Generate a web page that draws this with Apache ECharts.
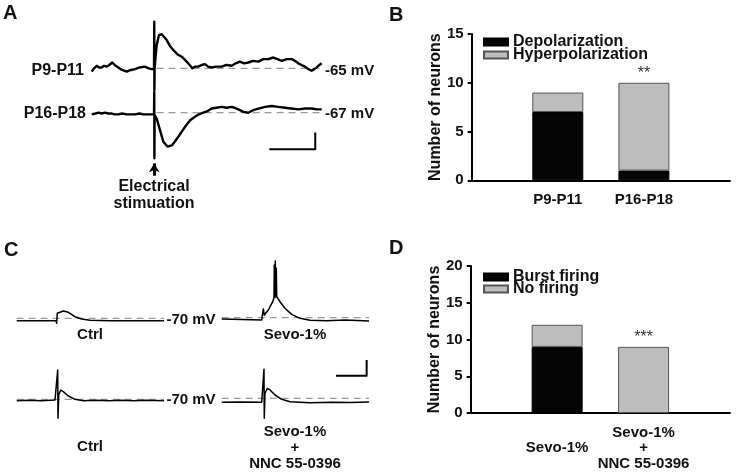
<!DOCTYPE html>
<html>
<head>
<meta charset="utf-8">
<script src="https://cdn.jsdelivr.net/npm/echarts@6/dist/echarts.min.js"></script>
<style>
html, body { margin: 0; padding: 0; background: #fff; }
#chart { width: 747px; height: 472px; }
</style>
</head>
<body>
<div id="chart"></div>
<script>
// ---------- panel A traces: [time ms, membrane potential mV] ----------
const traceP9 = [
  [0, -65.4], [5, -65.0], [10.9, -64.7], [16, -64.9], [21.7, -64.9], [27, -64.7], [32.6, -64.8], [38, -64.6],
  [44.8, -64.3], [50, -64.6], [57.8, -64.9], [66, -65.2], [76.1, -65.4], [85, -65.2], [94.1, -65.1], [104, -64.9],
  [115.9, -64.8], [124, -65.0], [130.4, -65.1], [135.5, -65.1], [136.0, -59.4], [136.3, -67.6], [136.8, -65.0],
  [139, -63.5], [141.3, -62.2], [146.3, -61.0], [152.2, -60.9], [157, -61.2], [163.1, -61.6], [170, -62.3],
  [177.4, -62.8], [186, -63.3], [195.7, -63.6], [206.5, -64.2], [213, -64.6], [218.7, -65.0], [225, -64.8],
  [231.7, -64.8], [239, -64.6], [246.3, -64.5], [253, -64.8], [260.9, -64.9], [271, -64.8], [282.6, -64.8],
  [293, -64.6], [304.4, -64.7], [313, -64.4], [322.4, -64.2], [331, -64.4], [340.4, -64.3], [351, -64.1],
  [362.2, -64.2], [373.1, -63.9], [384, -63.9], [394.8, -63.7], [404, -63.9], [413.1, -64.1], [424, -63.9],
  [434.8, -63.9], [442, -64.1], [449.1, -64.4], [456, -64.6], [463.7, -64.8], [471, -65.1], [478.3, -65.3],
  [484, -65.1], [489.2, -64.9], [495, -64.6], [500, -64.4]
];
const traceP16 = [
  [0, -67.2], [8, -67.1], [15, -67.0], [22, -67.1], [28.9, -67.0], [36, -67.1], [44, -67.1], [50, -67.2],
  [57.8, -67.2], [66, -67.1], [76, -67.2], [85, -67.2], [94.1, -67.2], [104, -67.1], [112, -67.2], [121, -67.2],
  [130.4, -67.2], [135.5, -67.2], [136.0, -64.5], [136.3, -72.5], [136.8, -67.3], [141.3, -67.7], [148.5, -69.1],
  [155.7, -70.5], [165.2, -71.1], [175.2, -70.9], [188.3, -69.9], [202.8, -68.7], [214, -67.9], [224.6, -67.5],
  [233, -67.2], [242.6, -67.0], [252, -66.8], [260.9, -66.5], [271, -66.4], [282.6, -66.3], [293, -66.4],
  [304.4, -66.3], [311, -66.4], [318.7, -66.6], [330, -66.9], [340.4, -67.0], [351, -66.7], [362.2, -66.5],
  [377, -66.3], [391.3, -66.2], [405, -66.3], [420.2, -66.4], [434, -66.5], [449.1, -66.6], [464, -66.5],
  [478.3, -66.5], [490, -66.6], [500, -66.6]
];
const restP9 = [[141, -65], [500, -65]];
const restP16 = [[141, -67], [500, -67]];
const scaleA = [[386, -71.4], [486, -71.4], [486, -69.4]];   // 100 ms, 2 mV
const arrowA = [[136, -74.6], [136, -73.1]];

// ---------- panel C traces ----------
const ctrlTop = [
  [0, -73.1], [128, -73.1], [130.2, -76.4], [132.2, -63.6], [135.5, -65.8], [151.7, -60.7], [168, -62.4],
  [189.8, -68.0], [211.6, -70.9], [238.7, -72.5], [303.8, -73.1], [480, -73.1]
];
const sevoTop = [
  [0, -71.7], [130.2, -72.9], [133.5, -75.1], [135.5, -58.9], [138.7, -66.6], [151.7, -60.2], [166.1, -49.6],
  [170.3, -44.5], [171.3, -2.9], [173.5, -43.6], [174.5, 2.2], [176.1, -43.6], [177.8, -7.1], [179.1, -43.2],
  [189.8, -49.6], [206.1, -58.0], [227.9, -65.7], [254.9, -70.8], [287.5, -73.3], [341.9, -73.8],
  [401.5, -72.9], [480, -74.2]
];
const ctrlBottom = [
  [0, -71.8], [40, -71.3], [80, -71.9], [124.7, -70.9], [133.5, -32.7], [134.5, -94.2], [136.8, -64.5],
  [143.3, -58.2], [151.7, -60.3], [168, -65.8], [189.8, -70.0], [216.8, -71.8], [260, -71.2], [300, -71.9],
  [340, -71.3], [380, -71.8], [420, -71.1], [480, -71.8]
];
const sevoNnc = [
  [0, -75.1], [60, -74.6], [130.2, -75.1], [135.5, -74.3], [137.7, -33.1], [138.7, -95.5], [141, -63.6],
  [148.5, -57.3], [157.3, -59.4], [173.5, -65.8], [195.4, -71.3], [222.4, -74.3], [287.5, -75.6],
  [360, -74.9], [420, -75.3], [480, -74.7]
];
const restC = [[0, -70], [480, -70]];
const scaleC = [[372, -41.2], [472, -41.2], [472, -21.2]];   // 100 ms, 20 mV

// ---------- panel B ----------
const ageGroups = ['', 'P9-P11', 'P16-P18', ''];
const depolarization = [null, 7, 1, null];
const hyperpolarization = [null, 2, 9, null];
const sigB = ['', '', '**', ''];

// ---------- panel D ----------
const treatments = ['', 'Sevo-1%', 'Sevo-1%\n+\nNNC 55-0396', ''];
const burstFiring = [null, 9, 0, null];
const noFiring = [null, 3, 9, null];
const sigD = ['', '', '***', ''];

const font = '"Liberation Sans", Arial, sans-serif';
const ink = '#111';

function barX(grid, cats, margin) {
  return {
    type: 'category', gridIndex: grid, data: cats, boundaryGap: false,
    axisLine: { lineStyle: { color: '#000', width: 2 } },
    axisTick: { show: false },
    axisLabel: {
      interval: 0, color: ink, fontSize: 15, fontWeight: 'bold', fontFamily: font,
      margin: margin, verticalAlign: 'middle', lineHeight: 15.5
    }
  };
}
function barY(grid, max) {
  return {
    type: 'value', gridIndex: grid, min: 0, max: max, interval: 5,
    name: 'Number of neurons', nameLocation: 'middle', nameGap: 28,
    nameTextStyle: { color: ink, fontSize: 16, fontWeight: 'bold', fontFamily: font },
    axisLine: { show: true, lineStyle: { color: '#000', width: 2 } },
    axisTick: { show: true, length: 4, lineStyle: { color: '#000', width: 2 } },
    splitLine: { show: false },
    axisLabel: { color: ink, fontSize: 15, fontWeight: 'bold', fontFamily: font, margin: 8 }
  };
}
function hidden(grid, min, max) {
  return { type: 'value', gridIndex: grid, min: min, max: max, show: false };
}
function line(idx, data, width, color, dash) {
  return {
    type: 'line', xAxisIndex: idx, yAxisIndex: idx, data: data,
    showSymbol: false, symbol: 'none', silent: true, z: dash ? 2 : 3,
    lineStyle: { color: color, width: width, type: dash ? [7, 5] : 'solid', join: 'round' }
  };
}
function legend(names, top, gap) {
  return {
    data: names, orient: 'vertical', left: 478, top: top, itemWidth: 24, itemHeight: 7,
    itemGap: gap, itemTextGap: 9, icon: 'rect', selectedMode: false,
    textStyle: { color: ink, fontSize: 16, fontWeight: 'bold', fontFamily: font }
  };
}
function sigLabel(marks) {
  return {
    show: true, position: 'top', distance: 1, color: '#333', fontSize: 16, fontFamily: font,
    formatter: p => marks[p.dataIndex]
  };
}
function txt(text, x, y, align, size, vAlign) {
  return {
    type: 'text', x: x, y: y, silent: true,
    style: {
      text: text, fill: ink, font: 'bold ' + size + 'px ' + font,
      textAlign: align, textVerticalAlign: vAlign || 'middle'
    }
  };
}

const chart = echarts.init(document.getElementById('chart'));
chart.setOption({
  animation: false,
  backgroundColor: '#fff',
  grid: [
    { left: 471.7, top: 34, width: 258.3, height: 146.3 },     // B
    { left: 470.7, top: 266, width: 259.3, height: 147 },      // D
    { left: 91.7, top: 18.5, width: 230, height: 74.7 },       // A P9-P11
    { left: 91.7, top: 87.8, width: 230, height: 99.6 },       // A P16-P18
    { left: 16.7, top: 255.5, width: 147.4, height: 70.65 },   // C ctrl top
    { left: 221.7, top: 254.9, width: 147.4, height: 70.65 },  // C sevo top
    { left: 16.7, top: 360.05, width: 147.4, height: 62.8 },   // C ctrl bottom
    { left: 221.7, top: 359.05, width: 147.4, height: 62.8 }   // C sevo + NNC
  ],
  xAxis: [
    barX(0, ageGroups, 20), barX(1, treatments, 35),
    hidden(2, 0, 500), hidden(3, 0, 500),
    hidden(4, 0, 480), hidden(5, 0, 480), hidden(6, 0, 480), hidden(7, 0, 480)
  ],
  yAxis: [
    barY(0, 15), barY(1, 20),
    hidden(2, -68, -59), hidden(3, -76, -64),
    hidden(4, -80, 10), hidden(5, -80, 10), hidden(6, -100, -20), hidden(7, -100, -20)
  ],
  legend: [
    legend(['Depolarization', 'Hyperpolarization'], 29, -3),
    legend(['Burst firing', 'No firing'], 264, -4)
  ],
  series: [
    { name: 'Depolarization', type: 'bar', stack: 'b', xAxisIndex: 0, yAxisIndex: 0, barWidth: 51,
      data: depolarization, itemStyle: { color: '#050505', borderColor: '#000', borderWidth: 1 } },
    { name: 'Hyperpolarization', type: 'bar', stack: 'b', xAxisIndex: 0, yAxisIndex: 0, barWidth: 51,
      data: hyperpolarization, label: sigLabel(sigB),
      itemStyle: { color: '#bdbdbd', borderColor: '#555', borderWidth: 1 } },
    { name: 'Burst firing', type: 'bar', stack: 'd', xAxisIndex: 1, yAxisIndex: 1, barWidth: 51,
      data: burstFiring, itemStyle: { color: '#050505', borderColor: '#000', borderWidth: 1 } },
    { name: 'No firing', type: 'bar', stack: 'd', xAxisIndex: 1, yAxisIndex: 1, barWidth: 51,
      data: noFiring, label: sigLabel(sigD),
      itemStyle: { color: '#bdbdbd', borderColor: '#555', borderWidth: 1 } },

    line(2, restP9, 1.3, '#9a9a9a', true),
    line(2, traceP9, 2.4, '#000'),
    line(3, restP16, 1.3, '#9a9a9a', true),
    Object.assign(line(3, traceP16, 2.4, '#000'), {
      markLine: {
        silent: true, symbol: ['none', 'arrow'], symbolSize: [8, 9], animation: false,
        label: { show: false }, lineStyle: { color: '#000', width: 3, type: 'solid' },
        data: [[{ coord: arrowA[0] }, { coord: arrowA[1] }]]
      }
    }),
    line(3, scaleA, 2, '#000'),

    line(4, restC, 1.3, '#9a9a9a', true),
    line(4, ctrlTop, 1.5, '#000'),
    line(5, restC, 1.3, '#9a9a9a', true),
    line(5, sevoTop, 1.5, '#000'),
    line(6, restC, 1.2, '#9a9a9a', true),
    line(6, ctrlBottom, 1.5, '#000'),
    line(7, restC, 1.3, '#9a9a9a', true),
    line(7, sevoNnc, 1.5, '#000'),
    line(7, scaleC, 2, '#000')
  ],
  graphic: [
    txt('A', 3, 3, 'left', 20, 'top'),
    txt('B', 389, 5, 'left', 20, 'top'),
    txt('C', 4, 240, 'left', 20, 'top'),
    txt('D', 389, 238, 'left', 20, 'top'),
    txt('P9-P11', 84, 71, 'right', 16),
    txt('P16-P18', 86, 113.5, 'right', 16),
    txt('-65 mV', 325, 71, 'left', 15),
    txt('-67 mV', 325, 113.5, 'left', 15),
    txt('Electrical', 154, 187, 'center', 16),
    txt('stimuation', 154, 203.5, 'center', 16),
    txt('-70 mV', 191, 320, 'center', 15),
    txt('-70 mV', 191, 400, 'center', 15),
    txt('Ctrl', 90, 335, 'center', 15),
    txt('Sevo-1%', 295, 335, 'center', 15),
    txt('Ctrl', 90, 447, 'center', 15),
    txt('Sevo-1%', 295, 431.7, 'center', 15),
    txt('+', 295, 448, 'center', 15),
    txt('NNC 55-0396', 295, 463.5, 'center', 15)
  ]
});
</script>
</body>
</html>
